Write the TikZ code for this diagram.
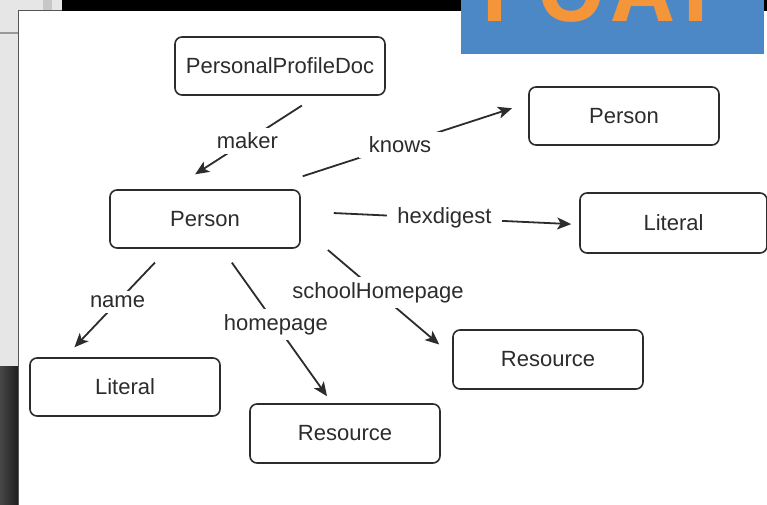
\documentclass[tikz,border=0pt]{standalone}
\usepackage{fontspec}
\setmainfont{Liberation Sans}
\newfontfamily\bannerfont[LetterSpace=9]{Open Sans}
\usetikzlibrary{arrows.meta,calc}
\definecolor{ink}{HTML}{2C2C2C}
\definecolor{frame}{HTML}{555555}
\definecolor{paneltop}{HTML}{E6E6E6}
\definecolor{foafblue}{HTML}{4D88C6}
\definecolor{foaforange}{HTML}{F5953A}
\begin{document}
\begin{tikzpicture}[x=1pt,y=-1pt,
  box/.style={draw=ink, line width=1.6pt, rounded corners=7pt,
    minimum width=190pt, minimum height=58pt, inner sep=0pt,
    text=ink, font=\fontsize{22}{26}\selectfont},
  rel/.style={draw=ink, line width=1.8pt,
    -{Stealth[length=14pt,width=12pt,inset=3.5pt]}},
  lbl/.style={fill=white, text=ink, inner xsep=10pt, inner ysep=5pt,
    font=\fontsize{22}{26}\selectfont}
]
\useasboundingbox (0,0) rectangle (767,505);

% surrounding window chrome
\fill[paneltop] (0,0) rectangle (18,366);
\fill[paneltop] (18,0) rectangle (62,10);
\fill[black!22] (43,0) rectangle (52,10);
\draw[black!40, line width=2pt] (0,33) -- (18,33);
\shade[left color=black!72, right color=black!88] (0,366) rectangle (18,505);
\fill[white] (18,10) rectangle (767,505);
\draw[frame, line width=1.5pt] (18.5,505) -- (18.5,10.5) -- (62,10.5);
\fill[black] (62,0) rectangle (767,11);

% FOAF banner
\fill[foafblue] (461,0) rectangle (764,54);
\begin{scope}
  \clip (461,0) rectangle (764,54);
  \node[anchor=base west, inner sep=0pt, text=foaforange,
    font=\bannerfont\bfseries\fontsize{88}{90}\selectfont] (banner) at (480,22) {FOAF};
\end{scope}

% classes
\node[box, minimum width=210pt] (doc) at (280,66) {PersonalProfileDoc};
\node[box] (person) at (205,219) {Person};
\node[box] (friend) at (624,116) {Person};
\node[box, minimum width=187pt, minimum height=60pt] (litR) at (673.5,223) {Literal};
\node[box] (litL) at (125,387) {Literal};
\node[box, minimum height=59pt] (resR) at (548,359.5) {Resource};
\node[box, minimum height=59pt] (resB) at (345,433.5) {Resource};

% properties
\draw[rel, shorten <=18pt, shorten >=27.5pt]
  ($(doc.south)+(37,0)$) -- node[lbl, pos=0.48] {maker} ($(person.north)+(-33,0)$);
\draw[rel, shorten <=42pt, shorten >=17pt]
  ($(person.north east)+(-38,0)$) -- node[lbl, pos=0.517] {knows} ($(friend.west)+(0,-13)$);
\draw[rel, shorten <=33pt, shorten >=8pt]
  ($(person.east)+(0,-7.5)$) -- node[lbl, pos=0.516] {hexdigest} ($(litR.west)+(0,1.5)$);
\draw[rel, shorten <=19pt, shorten >=13.7pt]
  ($(person.south)+(-37,0)$) -- node[lbl, pos=0.49] {name} ($(litL.north)+(-60,0)$);
\draw[rel, shorten <=17pt, shorten >=8.6pt]
  ($(person.south)+(17,0)$) -- node[lbl, pos=0.49] {homepage} ($(resB.north)+(-13,0)$);
\draw[rel, shorten <=35.5pt, shorten >=17pt]
  ($(person.east)+(0,8)$) -- node[lbl, pos=0.51] {schoolHomepage} ($(resR.west)+(0,-4)$);
\end{tikzpicture}
\end{document}
